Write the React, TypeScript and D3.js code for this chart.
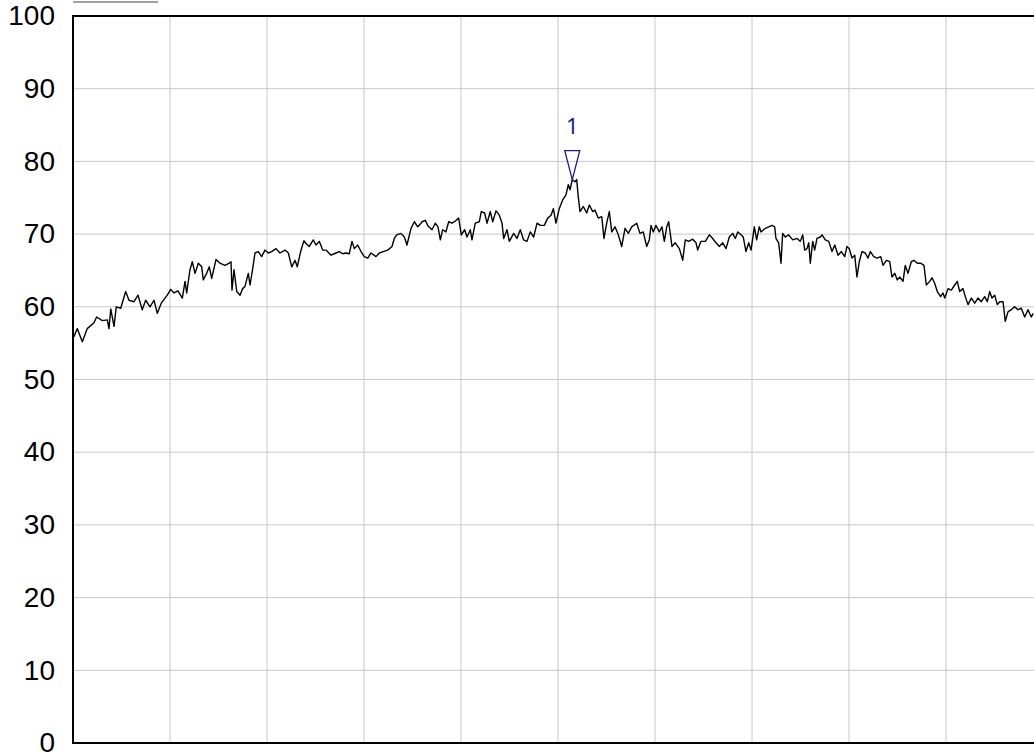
import React, { useEffect, useRef } from 'react';
import * as d3 from 'd3';

// trace positions along the sweep (0..1000 = 10 divisions) and levels
const bins = [
  0, 1.0, 4.4, 9.6, 14.7, 21.6, 24.4, 30.2, 35.4, 37.1, 38.9, 42.3, 44.6, 49.2, 54.3, 57.7, 62.9, 67.0,
  71.4, 74.9, 79.4, 83.5, 86.9, 91.0, 97.2, 100.7, 104.1, 108.2, 112.7, 115.5, 117.2, 120.6, 123.0,
  125.8, 129.2, 132.7, 134.3, 137.8, 140.5, 143.0, 147.4, 151.5, 156.7, 161.1, 162.9, 163.9, 166.0,
  168.8, 172.2, 174.9, 177.3, 180.7, 182.5, 185.3, 187.6, 191.0, 194.5, 197.9, 201.3, 204.8, 209.3,
  213.4, 218.6, 222.0, 225.5, 228.9, 231.2, 234.7, 238.1,
  240.2, 243.6, 247.7, 250.5, 253.9, 257.4, 260.8, 266.0, 271.1, 274.5, 278.0, 281.4, 284.8, 287.6,
  290.0, 293.5, 296.9, 300.3, 303.8, 307.2, 312.4, 315.8, 319.9, 324.4, 328.9, 331.2, 333.7, 338.1,
  341.6, 344.3, 348.5, 351.9, 355.4, 358.8,
  359.8, 363.2, 366.0, 370.1, 373.5, 376.3, 378.7, 381.1, 384.5, 387.3, 390.7, 394.1, 397.6, 400.3,
  403.8, 406.2, 409.6, 411.3, 414.7, 418.9, 420.9, 424.4, 426.8, 430.2, 432.7, 436.1, 439.5, 442.3,
  444.0, 447.4, 449.8, 454.3, 457.7, 461.1, 464.6, 468.0, 471.4, 474.9, 478.4, 481.8,
  485.9, 489.4, 492.8, 495.2, 497.9, 501.3, 504.8, 508.2, 510.6, 512.4, 514.7, 517.5, 519.3, 520.9,
  522.7, 526.1, 529.6, 532.3, 535.8, 538.1, 541.5, 545.1, 547.4, 550.2, 552.9, 555.4, 558.8, 562.2,
  565.7, 569.1, 572.5, 576.0, 581.1, 584.5, 587.9, 591.4,
  594.1, 595.9, 598.2, 601.0, 604.4, 607.2, 609.6, 612.1, 614.1, 617.5, 620.9, 625.1, 628.6, 631.2,
  634.7, 638.9, 642.3, 644.0, 647.4, 651.9, 656.0, 659.5, 662.9, 666.3, 669.8, 673.2, 676.6, 680.1,
  682.8, 685.3, 688.7, 691.0, 693.8, 696.6, 699.0, 702.4, 704.8, 707.5,
  709.3, 713.7, 717.2, 720.6, 723.4, 724.7, 727.5, 729.9, 731.6, 734.3, 737.8, 742.0, 746.4, 749.8,
  752.3, 754.3, 756.7, 758.5, 760.1, 762.6, 764.6, 767.0, 770.4, 772.2, 775.6, 779.1, 782.5, 785.3,
  788.7, 792.1, 795.6, 797.9, 800.3, 803.1, 805.9, 808.2, 810.6, 813.4, 816.8, 819.6, 822.0, 825.5,
  828.9,
  832.7, 835.1, 838.5, 842.0, 844.3, 847.1, 849.8, 852.3, 855.7, 858.0, 860.8, 864.2, 867.0, 870.4,
  873.9, 877.3, 879.7, 883.2, 885.6, 888.4, 891.0, 894.5, 896.9, 898.7, 902.1, 905.5, 909.0, 911.6,
  914.1, 917.5, 919.9, 922.7, 926.1, 929.6, 933.0, 936.4, 939.9, 942.6, 945.0, 947.4, 950.2, 952.9,
  955.4, 958.8, 961.1, 963.9, 967.3, 970.8, 974.2, 977.6, 981.1, 984.5, 987.9, 990.0,
];

const levels = [
  56.3, 55.9, 57.0, 55.2, 57.0, 57.8, 58.6, 58.1, 58.2, 57.0, 59.7, 57.3, 60.0, 59.8, 62.1, 60.9, 60.7, 61.6,
  59.6, 60.9, 60.0, 60.9, 59.1, 60.5, 61.6, 62.4, 61.9, 62.2, 61.2, 63.5, 61.9, 65.1, 66.2,
  64.6, 66.0, 65.5, 63.7, 64.6, 65.5, 63.9, 66.5, 66.0, 65.7, 66.0, 66.2, 62.3, 65.1,
  62.1, 61.6, 62.5, 62.8, 64.6, 63.0, 65.3, 67.4, 67.6, 66.9, 67.8, 67.4, 67.6, 68.0,
  67.4, 67.8, 67.4, 65.5, 66.4, 65.5, 67.6, 69.1,
  68.7, 68.3, 69.2, 68.5, 69.0, 67.8, 67.8, 67.1, 67.4, 67.6, 67.3, 67.4, 67.3, 69.0,
  68.0, 68.5, 67.6, 66.9, 66.7, 67.4, 66.9, 67.4, 67.6, 67.8, 68.3, 69.4, 69.9, 70.1,
  69.6, 68.5, 70.8, 71.7, 71.0, 71.5,
  71.7, 71.9, 71.1, 70.6, 71.5, 71.0, 69.2, 70.6, 70.3, 71.7, 71.5, 71.8, 72.2, 69.9,
  70.6, 69.6, 70.6, 69.2, 71.5, 71.7, 73.1, 72.9, 71.5, 73.1, 71.7, 73.2, 72.6, 71.5,
  69.4, 70.6, 69.0, 70.1, 69.4, 70.6, 69.2, 69.0, 70.3, 69.6, 71.5, 71.2,
  71.2, 72.2, 72.6, 73.5, 71.5, 73.5, 74.7, 75.4, 76.8, 76.1, 77.5, 77.2, 77.5, 75.1,
  73.1, 73.8, 72.9, 74.0, 73.1, 73.3, 72.2, 72.4, 69.4, 71.5, 73.1, 70.3, 71.0, 69.9,
  68.3, 70.8, 70.1, 71.0, 71.5, 70.1, 70.3, 68.3,
  69.2, 71.2, 70.3, 71.2, 70.3, 71.0, 69.0, 71.0, 71.7, 68.3, 68.8, 68.0, 66.4, 69.2,
  69.0, 69.3, 68.8, 67.8, 69.0, 69.0, 69.9, 69.4, 68.8, 68.3, 68.8, 68.0, 69.6, 70.1,
  69.4, 70.3, 69.9, 69.6, 67.6, 68.8, 67.8, 71.0, 69.2, 71.0,
  70.3, 70.8, 71.0, 71.2, 71.0, 69.4, 68.8, 66.0, 70.1, 69.6, 69.9, 69.2, 69.4, 69.0,
  69.9, 67.8, 68.0, 68.8, 66.0, 69.0, 67.8, 69.4, 69.6, 69.9, 69.2, 69.0, 67.6, 68.5,
  67.1, 67.6, 66.9, 68.3, 68.0, 66.7, 67.1, 64.1, 66.2, 67.6, 67.4, 66.7, 67.6, 66.9,
  66.7,
  66.9, 65.7, 66.4, 66.2, 64.1, 64.6, 63.7, 64.1, 63.5, 65.7, 64.6, 66.2, 66.4, 66.0,
  66.0, 65.7, 63.0, 63.5, 64.0, 63.2, 62.1, 61.4, 61.9, 61.2, 62.5, 62.3, 63.0, 63.5,
  62.1, 62.5, 61.4, 60.3, 61.2, 60.5, 61.2, 60.7, 61.4, 60.7, 62.1, 61.2, 61.6, 60.3,
  60.7, 60.7, 58.0, 59.3, 59.6, 60.0, 59.6, 59.8, 58.6, 59.6, 58.6, 59.1,
];

const yTicks = [0, 10, 20, 30, 40, 50, 60, 70, 80, 90, 100];
const xGrid = [0, 100, 200, 300, 400, 500, 600, 700, 800, 900, 1000];

const markerLabel = '1';
const markerBin = 514.7;
const markerLevel = 77.5;

const Chart = () => {
  const svgRef = useRef<SVGSVGElement>(null);

  useEffect(() => {
    const width = 1034;
    const height = 755;
    const margin = { left: 73, top: 16, bottom: 12 };
    const plotW = 970;

    const svg = d3.select(svgRef.current).attr('width', width).attr('height', height);
    svg.selectAll('*').remove();

    const x = d3.scaleLinear().domain([0, 1000]).range([margin.left, margin.left + plotW]);
    const y = d3.scaleLinear().domain([0, 100]).range([height - margin.bottom, margin.top]);

    // small line above the frame
    svg.append('line')
      .attr('x1', 73).attr('x2', 158)
      .attr('y1', 2).attr('y2', 2)
      .attr('stroke', '#444').attr('stroke-width', 1.2);

    // grid
    svg.append('g')
      .selectAll('line')
      .data(yTicks.slice(1, -1))
      .enter()
      .append('line')
      .attr('x1', x(0)).attr('x2', x(1000))
      .attr('y1', (d) => y(d)).attr('y2', (d) => y(d))
      .attr('stroke', '#c8c8c8').attr('stroke-width', 1);

    svg.append('g')
      .selectAll('line')
      .data(xGrid.slice(1))
      .enter()
      .append('line')
      .attr('x1', (d) => x(d)).attr('x2', (d) => x(d))
      .attr('y1', y(100)).attr('y2', y(0))
      .attr('stroke', '#c8c8c8').attr('stroke-width', 1);

    // y labels
    svg.append('g')
      .selectAll('text')
      .data(yTicks)
      .enter()
      .append('text')
      .attr('x', 55)
      .attr('y', (d) => y(d))
      .attr('dy', '0.33em')
      .attr('text-anchor', 'end')
      .attr('font-family', '"Liberation Sans", Arial, sans-serif')
      .attr('font-size', '28px')
      .attr('fill', '#000')
      .text((d) => d);

    // trace
    const pts = bins.map((b, i) => [b, levels[i]] as [number, number]);
    const line = d3.line<[number, number]>().x((d) => x(d[0])).y((d) => y(d[1]));
    svg.append('path')
      .datum(pts)
      .attr('d', line)
      .attr('fill', 'none')
      .attr('stroke', '#000')
      .attr('stroke-width', 1.4)
      .attr('stroke-linejoin', 'round');

    // frame
    svg.append('path')
      .attr('d', `M${x(1000)},${y(100)}H${x(0)}V${y(0)}H${x(1000)}`)
      .attr('fill', 'none')
      .attr('stroke', '#000')
      .attr('stroke-width', 2);

    // marker
    const mx = x(markerBin);
    const my = y(markerLevel);
    svg.append('path')
      .attr('d', `M${mx},${my}L${mx - 7.5},${my - 29}L${mx + 7.5},${my - 29}Z`)
      .attr('fill', 'none')
      .attr('stroke', '#1c1c8c')
      .attr('stroke-width', 1.3);
    svg.append('text')
      .attr('x', mx)
      .attr('y', my - 46)
      .attr('text-anchor', 'middle')
      .attr('font-family', '"Noto Sans", "DejaVu Sans", sans-serif')
      .attr('font-size', '22px')
      .attr('fill', '#1c1c8c')
      .text(markerLabel);
  }, []);

  return (
    <svg ref={svgRef} style={{ position: 'absolute', left: 0, top: 0, display: 'block' }}></svg>
  );
};

export default function App() {
  return <Chart />;
}
